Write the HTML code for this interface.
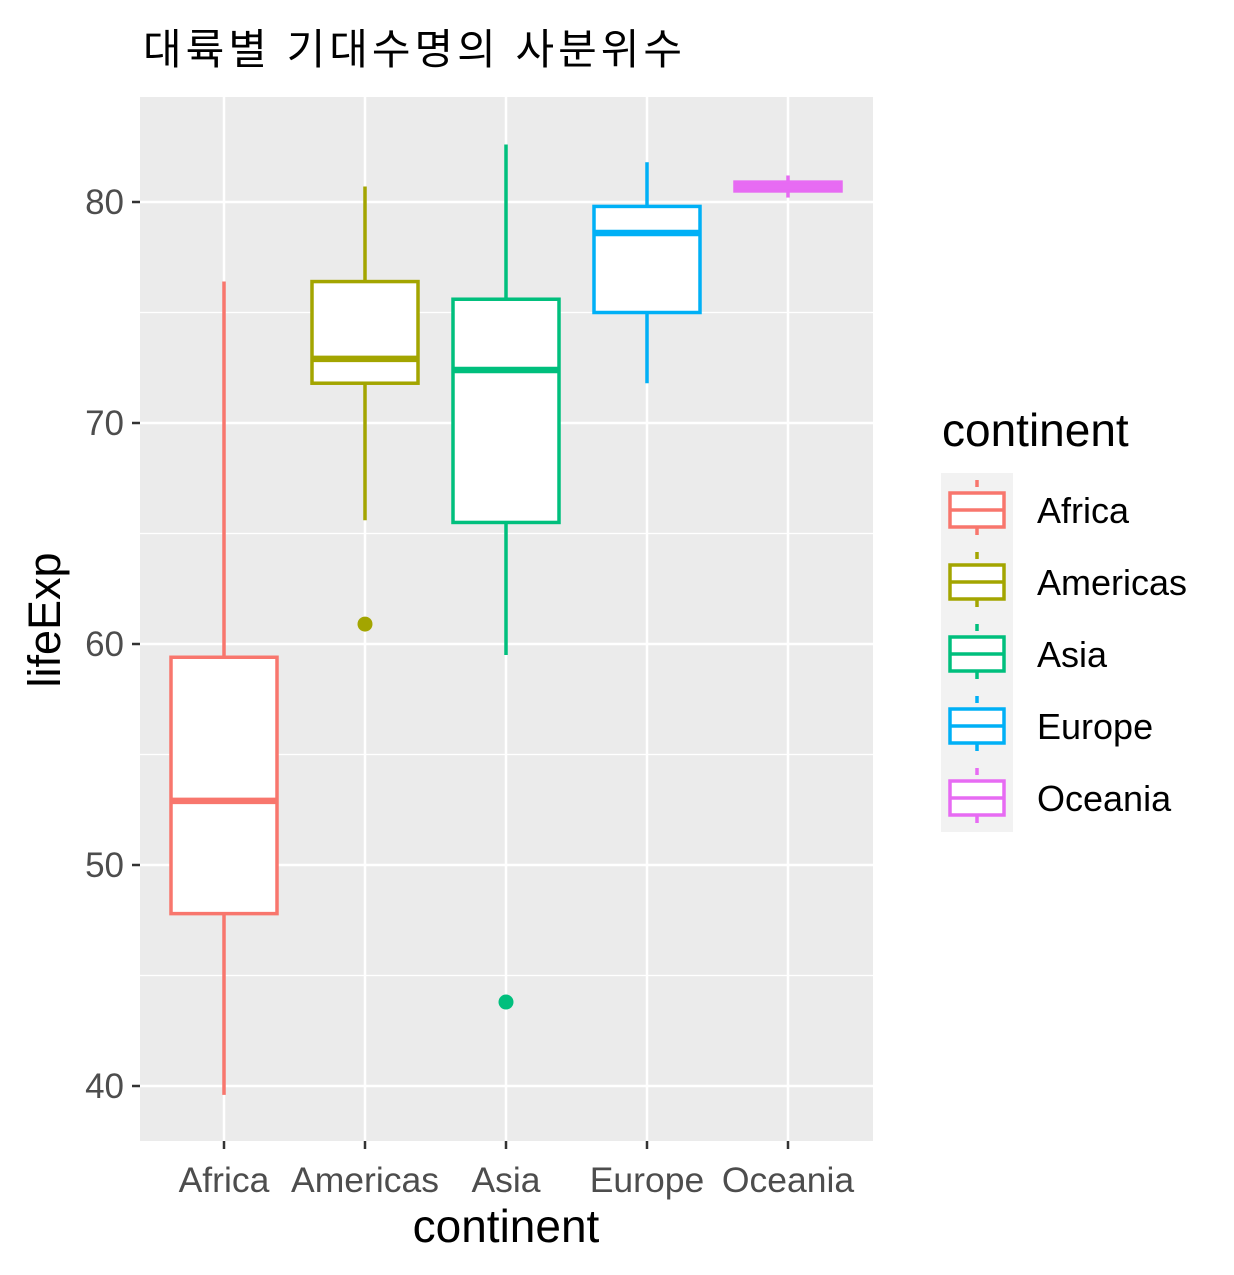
<!DOCTYPE html>
<html><head><meta charset="utf-8"><style>
body{margin:0;background:#fff;}
svg{display:block;font-family:"Liberation Sans","Noto Sans CJK KR",sans-serif;}
</style></head><body>
<svg id="c" width="1234" height="1275"></svg>
<script>
const categories=["Africa","Americas","Asia","Europe","Oceania"];
const colors=["#F8766D","#A3A500","#00BF7D","#00B0F6","#E76BF3"];
const lowWhisker=[39.6,65.6,59.5,71.8,80.2];
const q1=[47.8,71.8,65.5,75.0,80.5];
const medians=[52.9,72.9,72.4,78.6,80.7];
const q3=[59.4,76.4,75.6,79.8,80.9];
const highWhisker=[76.4,80.7,82.6,81.8,81.2];
const outlierCat=[1,2];
const outlierVal=[60.9,43.8];
const yTicks=[40,50,60,70,80];

const NS="http://www.w3.org/2000/svg";
const svg=document.getElementById('c');
function el(t,a,p){const e=document.createElementNS(NS,t);for(const k in a)e.setAttribute(k,a[k]);(p||svg).appendChild(e);return e;}
const L=140,R=873,T=97,B=1141;
const y=v=>202+(80-v)*22.1;
const x=i=>224+i*141;
const bw=106;

const bg=el('rect',{x:L,y:T,width:R-L,height:B-T,fill:'#EBEBEB'});


for(let v=45;v<=85;v+=10){if(y(v)>T&&y(v)<B)el('line',{x1:L,x2:R,y1:y(v),y2:y(v),stroke:'#fff','stroke-width':1.2});}
yTicks.forEach(v=>{
 el('line',{x1:L,x2:R,y1:y(v),y2:y(v),stroke:'#fff','stroke-width':2.5});
 el('line',{x1:L-8,x2:L,y1:y(v),y2:y(v),stroke:'#333','stroke-width':2.5});
 const t=el('text',{x:L-16,y:y(v)+12,'text-anchor':'end','font-size':35,fill:'#4d4d4d'});t.textContent=v;
 
 
});
categories.forEach((c,i)=>{
 el('line',{x1:x(i),x2:x(i),y1:T,y2:B,stroke:'#fff','stroke-width':2.5});
 el('line',{x1:x(i),x2:x(i),y1:B,y2:B+8,stroke:'#333','stroke-width':2.5});
 const t=el('text',{x:x(i),y:1192,'text-anchor':'middle','font-size':35.5,fill:'#4d4d4d'});t.textContent=c;
 
 
});
categories.forEach((c,i)=>{
 const g=el('g',{});
 
 
 const col=colors[i];
 el('line',{x1:x(i),x2:x(i),y1:y(highWhisker[i]),y2:y(q3[i]),stroke:col,'stroke-width':3.5},g);
 el('line',{x1:x(i),x2:x(i),y1:y(q1[i]),y2:y(lowWhisker[i]),stroke:col,'stroke-width':3.5},g);
 el('rect',{x:x(i)-bw/2,y:y(q3[i]),width:bw,height:Math.max(1,y(q1[i])-y(q3[i])),fill:'#fff',stroke:col,'stroke-width':3.5},g);
 el('line',{x1:x(i)-bw/2,x2:x(i)+bw/2,y1:y(medians[i]),y2:y(medians[i]),stroke:col,'stroke-width':6.5},g);
});
outlierCat.forEach((ci,k)=>{
 const p=el('circle',{cx:x(ci),cy:y(outlierVal[k]),r:7.5,fill:colors[ci]});
 
 
});
let t=el('text',{x:143,y:64,'font-size':42,'letter-spacing':4,fill:'#000'});t.textContent='대륙별 기대수명의 사분위수';

t=el('text',{x:506,y:1242,'text-anchor':'middle','font-size':46,fill:'#000'});t.textContent='continent';

t=el('text',{x:0,y:0,'text-anchor':'middle','font-size':45,fill:'#000',transform:'translate(60,620) rotate(-90)'});t.textContent='lifeExp';

t=el('text',{x:942,y:446,'font-size':46,fill:'#000'});t.textContent='continent';

el('rect',{x:941,y:473,width:72,height:359,fill:'#F2F2F2'});
categories.forEach((c,i)=>{
 const g=el('g',{});
 
 
 const cy=510+i*72,col=colors[i];
 el('line',{x1:977,x2:977,y1:cy-30,y2:cy+30,stroke:col,'stroke-width':3.5,'stroke-dasharray':'7,5'},g);
 el('rect',{x:950,y:cy-17,width:54,height:34,fill:'#fff',stroke:col,'stroke-width':3.5},g);
 el('line',{x1:950,x2:1004,y1:cy,y2:cy,stroke:col,'stroke-width':3.5},g);
 const tt=el('text',{x:1037,y:cy+13,'font-size':36,fill:'#000'},g);tt.textContent=c;
});
</script>
</body></html>
